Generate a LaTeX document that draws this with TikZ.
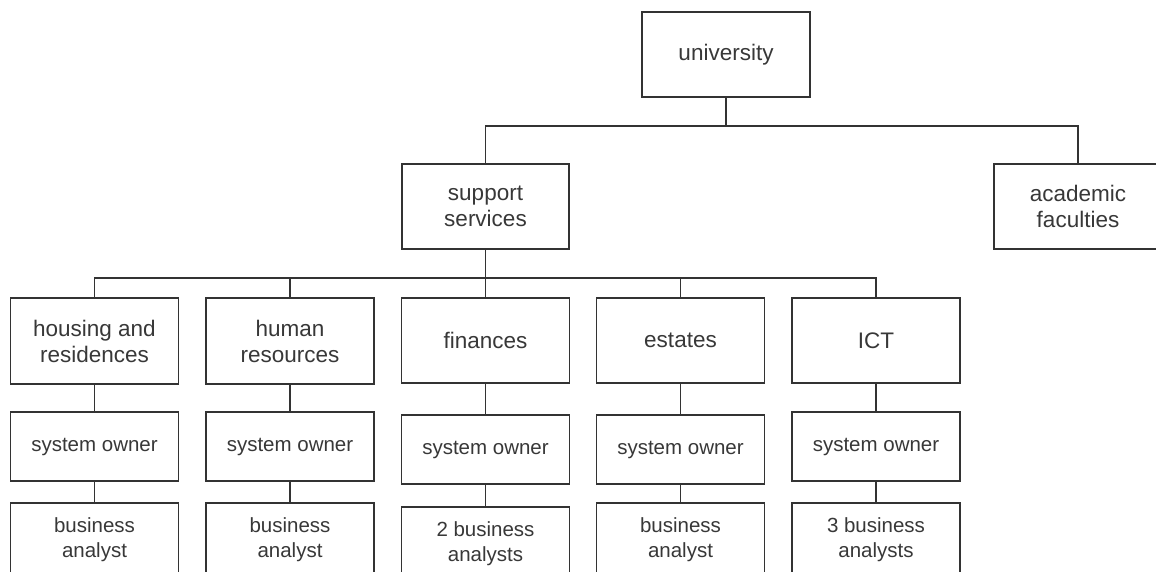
\documentclass[tikz,border=0pt]{standalone}
\usepackage{fontspec}
\setmainfont{Liberation Sans}
\begin{document}
\begin{tikzpicture}[x=1pt,y=-1pt,
  box/.style={draw=black!80, line width=1.6pt, rectangle, inner sep=0pt, align=center,
    text=black!78, minimum width=168pt},
  big/.style={box, minimum height=85pt, font=\fontsize{22.5}{26}\selectfont},
  small/.style={box, minimum height=69pt, font=\fontsize{20.5}{25}\selectfont},
  conn/.style={draw=black!80, line width=1.5pt}]
\useasboundingbox (0,0) rectangle (1156,571);
\fill[white] (0,0) rectangle (1156,571);
% top levels
\node[big, minimum width=168pt] (univ) at (726,54.5) {university};
\node[big, minimum width=167pt] (supp) at (485.5,206.5) {support\\services};
\node[big] (acad) at (1078,206.5) {academic\\faculties};
% departments
\node[big, minimum height=86pt] (house) at (94.5,341) {housing and\\residences};
\node[big, minimum height=86pt] (hr) at (290,341) {human\\resources};
\node[big] (fin) at (485.5,340.5) {finances};
\node[big] (est) at (680.5,340.5) {estates};
\node[big] (ict) at (876,340.5) {ICT};
% system owners
\node[small] (so1) at (94.5,446.5) {system owner};
\node[small] (so2) at (290,446.5) {system owner};
\node[small] (so3) at (485.5,449.5) {system owner};
\node[small] (so4) at (680.5,449.5) {system owner};
\node[small] (so5) at (876,446.5) {system owner};
% business analysts (cut by the lower edge of the picture)
\node[small, minimum height=74pt] (ba1) at (94.5,540) {business\\analyst};
\node[small, minimum height=74pt] (ba2) at (290,540) {business\\analyst};
\node[small, minimum height=74pt] (ba3) at (485.5,544) {2 business\\analysts};
\node[small, minimum height=74pt] (ba4) at (680.5,540) {business\\analyst};
\node[small, minimum height=74pt] (ba5) at (876,540) {3 business\\analysts};
% buses
\coordinate (busA) at (726,126);
\coordinate (busB) at (485.5,278);
\draw[conn] (univ.south) -- (busA) -| (supp.north);
\draw[conn] (busA) -| (acad.north);
\draw[conn] (supp.south) -- (busB) -| (house.north);
\draw[conn] (busB) -| (hr.north);
\draw[conn] (busB) -- (fin.north);
\draw[conn] (busB) -| (est.north);
\draw[conn] (busB) -| (ict.north);
% columns
\foreach \d/\s/\b in {house/so1/ba1, hr/so2/ba2, fin/so3/ba3, est/so4/ba4, ict/so5/ba5}{
  \draw[conn] (\d.south) -- (\s.north);
  \draw[conn] (\s.south) -- (\b.north);
}
\end{tikzpicture}
\end{document}
